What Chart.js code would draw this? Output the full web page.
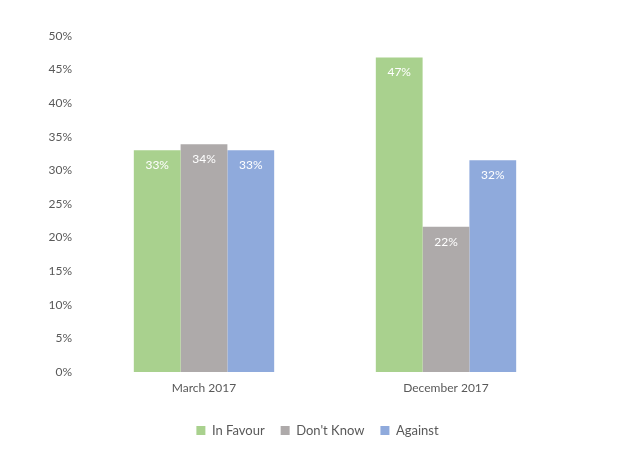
<!DOCTYPE html>
<html>
<head>
<meta charset="utf-8">
<script src="https://cdn.jsdelivr.net/npm/chart.js@4/dist/chart.umd.min.js"></script>
<style>
  html, body { margin: 0; padding: 0; background: #fff; }
  #wrap { width: 630px; height: 456px; }
</style>
</head>
<body>
<div id="wrap"><canvas id="c"></canvas></div>
<script>
const categories = ["March 2017", "December 2017"];
const inFavour = [33.0, 46.8];
const dontKnow = [33.9, 21.6];
const against = [33.0, 31.5];
const yTicks = [0, 5, 10, 15, 20, 25, 30, 35, 40, 45, 50];

const TEXT = "#595959";
const FONT = "Lato, 'Open Sans', sans-serif";

// white percentage labels just inside the top of each bar
const barLabels = {
  id: "barLabels",
  afterDatasetsDraw(chart) {
    const ctx = chart.ctx;
    ctx.save();
    ctx.fillStyle = "#ffffff";
    ctx.font = "12px " + FONT;
    ctx.textAlign = "center";
    ctx.textBaseline = "middle";
    chart.data.datasets.forEach((ds, i) => {
      chart.getDatasetMeta(i).data.forEach((bar, j) => {
        ctx.fillText(Math.round(ds.data[j]) + "%", bar.x, bar.y + 15);
      });
    });
    ctx.restore();
  }
};

new Chart(document.getElementById("c"), {
  type: "bar",
  data: {
    labels: categories,
    datasets: [
      { label: "In Favour", data: inFavour, backgroundColor: "#A9D18E" },
      { label: "Don't Know", data: dontKnow, backgroundColor: "#AEAAAA" },
      { label: "Against", data: against, backgroundColor: "#8FAADC" }
    ]
  },
  options: {
    animation: false,
    responsive: true,
    maintainAspectRatio: false,
    devicePixelRatio: 1,
    layout: { padding: { top: 36, right: 0, left: 5, bottom: 9 } },
    datasets: { bar: { categoryPercentage: 0.58, barPercentage: 1.0 } },
    scales: {
      x: {
        afterFit(axis) { axis.height = 36; },
        grid: { display: false, drawTicks: false },
        border: { display: false },
        ticks: { color: TEXT, font: { family: FONT, size: 12 }, padding: 9 }
      },
      y: {
        min: 0,
        max: 50,
        afterBuildTicks(axis) { axis.ticks = yTicks.map(v => ({ value: v })); },
        afterFit(axis) { axis.width = 78; },
        grid: { display: false, drawTicks: false },
        border: { display: false },
        ticks: {
          color: TEXT,
          font: { family: FONT, size: 12 },
          padding: 11,
          callback: v => v + "%"
        }
      },
      // empty right-hand axis that only reserves the right margin
      yRight: {
        position: "right",
        afterFit(axis) { axis.width = 63; },
        grid: { display: false, drawTicks: false },
        border: { display: false },
        ticks: { display: false }
      }
    },
    plugins: {
      legend: {
        position: "bottom",
        labels: {
          color: TEXT,
          font: { family: FONT, size: 13 },
          boxWidth: 9,
          boxHeight: 9,
          padding: 16
        }
      },
      tooltip: { enabled: false }
    }
  },
  plugins: [barLabels]
});
</script>
</body>
</html>
